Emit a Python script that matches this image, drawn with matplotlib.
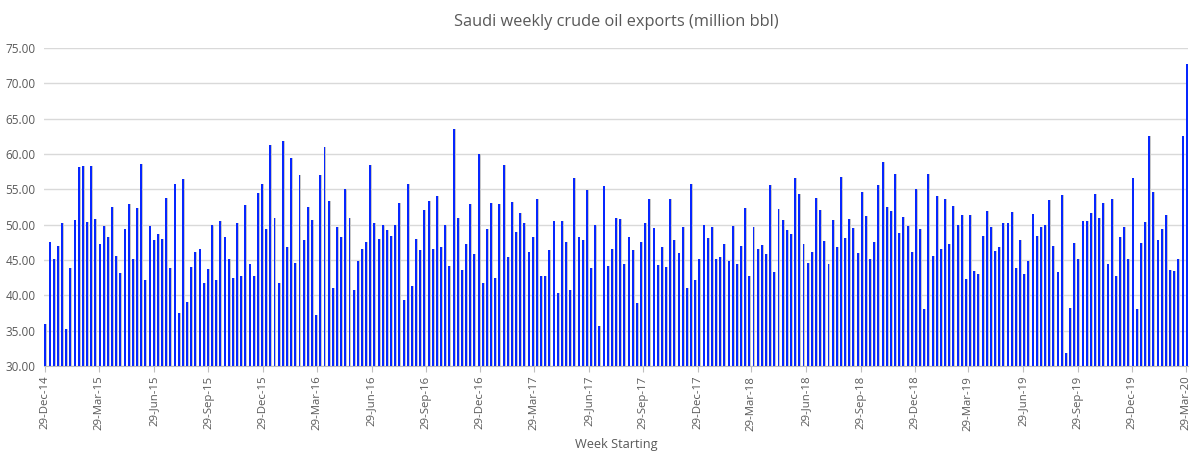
import numpy as np
import pandas as pd
import matplotlib
matplotlib.use("Agg")
import matplotlib.pyplot as plt
import matplotlib.dates as mdates

# weekly values, in order, first week starting 29-Dec-14
part1 = [36.0, 47.5, 45.2, 47.0, 50.2, 35.2, 43.8, 50.7, 58.2, 58.3, 50.4, 58.3, 50.8, 47.3, 49.8, 48.2,
         52.5, 45.5, 43.1, 49.4, 52.9, 45.2]
part2 = [52.4, 58.6, 42.1, 49.8, 47.8, 48.7, 48.0, 53.8, 43.9, 55.8, 37.5, 56.5, 39.1, 44.0, 46.2, 46.5,
         41.7, 43.7, 50.0, 42.1, 50.5, 48.2, 45.1]
part3 = [42.4, 50.2, 42.7, 52.8, 44.4, 42.7, 54.5, 55.8, 49.4, 61.3, 50.9, 41.8, 61.8, 46.8, 59.4, 44.6,
         57.0, 47.8, 52.5, 50.7, 37.2, 57.0]
part4 = [61.0, 53.3, 41.0, 49.7, 48.2, 55.0, 51.0, 40.8, 44.8, 46.6, 47.6, 58.5, 50.3, 48.0, 50.0, 49.3,
         48.4, 49.9, 53.0, 39.3, 55.7, 41.3, 48.0]
part5 = [46.4, 52.1, 53.4, 46.6, 54.0, 46.9, 50.0, 44.2, 63.6, 50.9, 43.6, 47.3, 52.9, 45.8, 60.0, 41.7,
         49.4, 53.0, 42.5, 52.9, 58.5, 45.4, 53.2]
part6 = [48.9, 51.7, 50.2, 46.1, 48.3, 53.6, 42.7, 42.8, 46.4, 50.5, 40.3, 50.5, 47.6, 40.8, 56.6, 48.2,
         47.8, 54.9, 43.9, 49.9, 35.7, 55.5]
part7 = [44.2, 46.5, 50.9, 50.8, 44.4, 48.3, 46.4, 38.9, 47.5, 50.2, 53.6, 49.5, 44.3, 46.8, 44.0, 53.6,
         47.9, 46.0, 49.6, 41.0, 55.7, 42.1, 45.2]
part8 = [49.9, 48.1, 49.6, 45.2, 45.4, 47.2, 44.9, 49.8, 44.5, 47.0, 52.4, 42.7, 49.6, 46.5, 47.1, 45.8,
         55.6, 43.3, 52.2, 50.7, 49.2, 48.7]
part9 = [56.6, 54.4, 47.3, 44.6, 46.1, 53.8, 52.1, 47.7, 44.4, 50.6, 46.9, 56.8, 48.1, 50.8, 49.5, 46.0,
         54.6, 51.2, 45.1, 47.6, 55.6, 58.8, 52.5]
part10 = [51.9, 57.2, 48.8, 51.1, 49.8, 46.1, 55.0, 49.4, 38.0, 57.1, 45.5, 54.1, 46.5, 53.6, 47.2, 52.6,
          50.0, 51.3, 42.3, 51.4, 43.5, 43.0, 48.4]
part11 = [51.9, 49.6, 46.3, 46.8, 50.2, 50.2, 51.8, 43.8, 47.9, 43.0, 44.8, 51.5, 48.4, 49.6, 49.9, 53.5,
          47.0, 43.3, 54.2, 31.8, 38.2, 47.4]
part12 = [45.2, 50.5, 50.5, 51.6, 54.3, 51.0, 53.1, 44.5, 53.7, 42.7, 48.3, 49.6, 45.2, 56.6, 38.1, 47.4,
          50.4, 62.5, 54.6, 47.8, 49.4, 51.4, 43.6, 43.4, 45.1, 62.5, 72.8]

tick_labels = ["29-Dec-14", "29-Mar-15", "29-Jun-15", "29-Sep-15", "29-Dec-15", "29-Mar-16", "29-Jun-16",
               "29-Sep-16", "29-Dec-16", "29-Mar-17", "29-Jun-17", "29-Sep-17", "29-Dec-17", "29-Mar-18",
               "29-Jun-18", "29-Sep-18", "29-Dec-18", "29-Mar-19", "29-Jun-19", "29-Sep-19", "29-Dec-19",
               "29-Mar-20"]

exports = (part1 + part2 + part3 + part4 + part5 + part6 + part7 + part8 + part9 + part10
           + part11 + part12)
weeks = pd.date_range("2014-12-29", periods=len(exports), freq="7D")
tick_dates = pd.to_datetime(tick_labels, format="%d-%b-%y")

plt.rcParams['font.family'] = ['Open Sans', 'DejaVu Sans']
txt = '#595959'

fig = plt.figure(figsize=(12, 4.63), dpi=100)
ax = fig.add_axes([44 / 1200, 1 - 366 / 463, (1188 - 44) / 1200, (366 - 48) / 463])

x = mdates.date2num(weeks)
# light grey shadow then the blue bar
ax.bar(x + 1.8, np.array(exports) - 30, bottom=30, width=2.8, color='#c8c8c8', linewidth=0, zorder=2)
ax.bar(x, np.array(exports) - 30, bottom=30, width=3.3, color='#0626ff', linewidth=0, zorder=3)

ax.set_ylim(30, 75)
ax.set_yticks(np.arange(30, 76, 5))
ax.set_yticklabels([f"{v:.2f}" for v in np.arange(30, 76, 5)])
ax.set_xlim(x[0] - 2.4, x[-1] + 2.2)
ax.set_xticks(mdates.date2num(tick_dates))
ax.set_xticklabels(tick_labels, rotation=90)

ax.grid(axis='y', color='#d9d9d9', linewidth=1, zorder=0)
ax.set_axisbelow(True)
for s in ['top', 'right', 'left']:
    ax.spines[s].set_visible(False)
ax.spines['bottom'].set_color('#bfbfbf')
ax.tick_params(axis='y', length=0, labelsize=8.5, labelcolor=txt, pad=6)
ax.tick_params(axis='x', length=4, color='#bfbfbf', labelsize=8.2, labelcolor=txt, pad=3)

ax.set_title("Saudi weekly crude oil exports (million bbl)", fontsize=11.8, color=txt, pad=16)
ax.set_xlabel("Week Starting", fontsize=9.2, color=txt, labelpad=5)

fig.savefig("out.png", dpi=100)
